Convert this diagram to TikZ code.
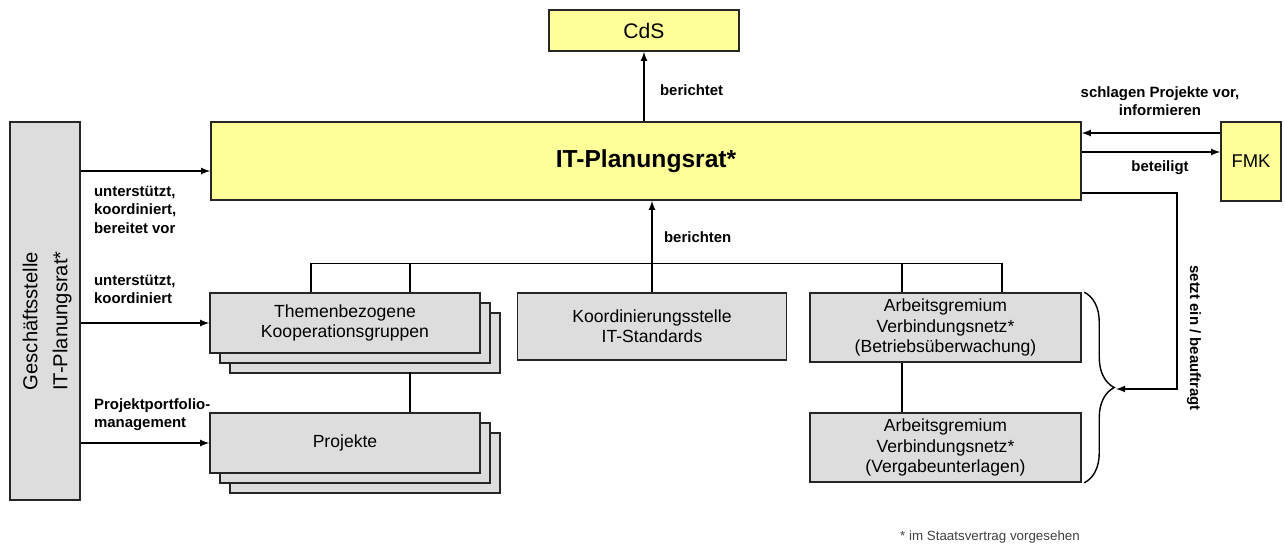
\documentclass[tikz,border=0pt]{standalone}
\usepackage{fontspec}
\setmainfont{Liberation Sans}
\usetikzlibrary{shadows,decorations.pathreplacing}
\definecolor{gelb}{RGB}{255,255,153}
\definecolor{grau}{RGB}{221,221,221}

\begin{document}
\begin{tikzpicture}[
                x=0.02cm, y=-0.02cm,          % 以像素为单位
                >=latex,
                box/.style={
                    draw=black!85,
                    line width=0.9pt,
                    align=center,
                    inner sep=2pt,
                    font=\fontsize{10}{11.5}\selectfont
                },
                gelbbox/.style={box, fill=gelb},
                graubox/.style={box, fill=grau},
                stapel/.style={graubox, double copy shadow={shadow xshift=0.2cm, shadow yshift=-0.2cm, fill=grau, draw=black!85, line width=0.9pt}},
                line/.style={line width=0.8pt},
                arrow/.style={->, line width=0.8pt},
                lbl/.style={font=\bfseries\fontsize{8.5}{10.5}\selectfont, inner sep=1pt}
            ]
                \useasboundingbox (0,0) rectangle (1285,545);

                % 方框
                \node[gelbbox, minimum width=3.8cm, minimum height=0.82cm, font=\fontsize{12}{14}\selectfont] (cds) at (644,30.5) {CdS};
                \node[gelbbox, minimum width=17.4cm, minimum height=1.56cm, font=\bfseries\fontsize{14}{16}\selectfont] (itpr) at (646,161) {IT-Planungsrat*};
                \node[gelbbox, minimum width=1.2cm, minimum height=1.58cm, font=\fontsize{10.5}{12}\selectfont] (fmk) at (1251,161.5) {FMK};
                \node[graubox, rotate=90, minimum width=7.56cm, minimum height=1.4cm, text depth=0pt, font=\fontsize{11.5}{17}\selectfont] (gs) at (45,311) {\raisebox{0pt}{}\hspace*{-0.4cm}Geschäftsstelle\\\hspace*{-0.4cm}IT-Planungsrat*};
                \node[stapel, minimum width=5.4cm, minimum height=1.2cm] (tkg) at (345,323) {Themenbezogene\\Kooperationsgruppen};
                \node[stapel, minimum width=5.4cm, minimum height=1.2cm] (proj) at (345,443) {Projekte};
                \node[graubox, minimum width=5.38cm, minimum height=1.34cm] (kst) at (652,326.5) {Koordinierungsstelle\\IT-Standards};
                \node[graubox, minimum width=5.42cm, minimum height=1.38cm] (agb) at (945.5,327.5) {Arbeitsgremium\\Verbindungsnetz*\\(Betriebsüberwachung)};
                \node[graubox, minimum width=5.42cm, minimum height=1.38cm] (agv) at (945.5,447.5) {Arbeitsgremium\\Verbindungsnetz*\\(Vergabeunterlagen)};

                % 边
                \draw[arrow] (itpr.north -| cds) -- (cds.south);
                \node[lbl, anchor=west] at (658,90) {berichtet};

                \draw[arrow] (gs.south |- 0,171) -- (itpr.west |- 0,171);
                \node[lbl, anchor=north west, align=left] at (92,184) {unterstützt,\\koordiniert,\\bereitet vor};
                \draw[arrow] (gs.south |- tkg.west) -- (tkg.west);
                \node[lbl, anchor=south west, align=left] at (92,306) {unterstützt,\\koordiniert};
                \draw[arrow] (gs.south |- proj.west) -- (proj.west);
                \node[lbl, anchor=south west, align=left] at (92,433) {Projektportfolio-\\management};

                % 汇总线
                \draw[line] ([xshift=-0.68cm]tkg.north) -- ++(0,0.58cm) -| ([xshift=1.13cm]agb.north);
                \draw[line] ([xshift=1.3cm]tkg.north) -- ++(0,0.58cm);
                \draw[line] ([xshift=-0.87cm]agb.north) -- ++(0,0.58cm);
                \draw[arrow] (kst.north) -- (kst.north |- itpr.south);
                \node[lbl, anchor=west] at (662,237) {berichten};
                \draw[line] ([xshift=1.3cm]proj.north) -- ++(0,0.8cm);
                \draw[line] ([xshift=-0.87cm]agv.north) -- ([xshift=-0.87cm]agb.south);

                % FMK
                \draw[arrow] (fmk.west |- 0,133) -- (itpr.east |- 0,133);
                \draw[arrow] (itpr.east |- 0,152) -- (fmk.west |- 0,152);
                \node[lbl, align=center] at (1160,101) {schlagen Projekte vor,\\informieren};
                \node[lbl] at (1160,168) {beteiligt};

                % 括号
                \draw[line, decorate, decoration={brace, amplitude=0.6cm}] ([xshift=0.05cm]agb.north east) -- ([xshift=0.05cm]agv.south east);
                \coordinate (tip) at (1116,389);
                \draw[arrow] (itpr.east |- 0,193) -| ([xshift=1.22cm]tip) -- (tip);
                \node[lbl, rotate=-90] at (1194,338) {setzt ein / beauftragt};

                \node[font=\fontsize{7.6}{9}\selectfont, text=black!75] (fn) at (990,537) {* im Staatsvertrag vorgesehen};
            \end{tikzpicture}
\end{document}
